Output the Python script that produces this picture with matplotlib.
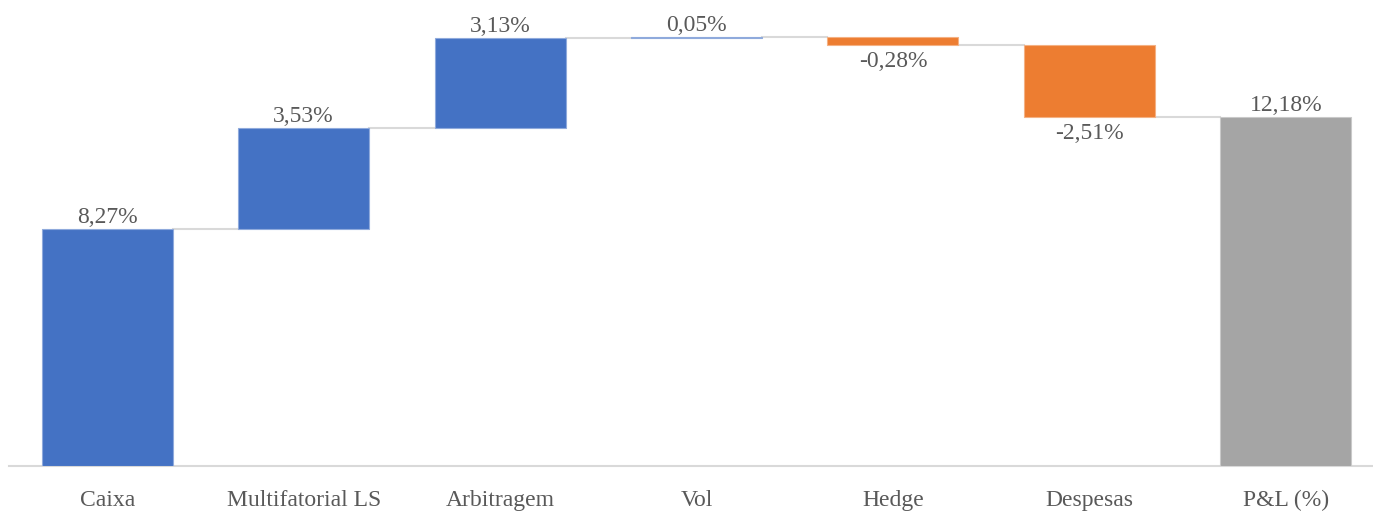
import matplotlib
matplotlib.use("Agg")
import matplotlib.pyplot as plt
import numpy as np

categories = ["Caixa", "Multifatorial LS", "Arbitragem", "Vol", "Hedge", "Despesas", "P&L (%)"]
changes = [8.27, 3.53, 3.13, 0.05, -0.28, -2.51]
total = 12.18
labels = ["8,27%", "3,53%", "3,13%", "0,05%", "-0,28%", "-2,51%", "12,18%"]

BLUE = "#4472C4"
ORANGE = "#ED7D31"
GRAY = "#A5A5A5"
TEXT = "#595959"
FONT = ["Liberation Serif", "DejaVu Serif"]
FS = 17

W, H = 1373, 513
fig = plt.figure(figsize=(W / 100, H / 100), dpi=100)
ax = fig.add_axes([9 / W, 47 / H, 1375 / W, 466 / H])

starts = []
ends = []
cum = 0.0
for v in changes:
    starts.append(cum)
    cum += v
    ends.append(cum)

bw = 0.667
x = np.arange(len(categories))
for i, v in enumerate(changes):
    lo = min(starts[i], ends[i])
    col = BLUE if v >= 0 else ORANGE
    edge = "#8FAADC" if v >= 0 else "#F4B183"
    ax.bar(x[i], abs(v), bottom=lo, width=bw, color=col, edgecolor=edge, linewidth=0.8, zorder=3)
ax.bar(x[-1], total, bottom=0, width=bw, color=GRAY, edgecolor="#C9C9C9", linewidth=0.8, zorder=3)

# connectors
for i in range(len(categories) - 1):
    ax.plot([x[i] + bw / 2, x[i + 1] - bw / 2], [ends[i], ends[i]], color="#D9D9D9", lw=1.5, zorder=2)

# labels
for i, v in enumerate(changes):
    if v >= 0:
        ax.annotate(labels[i], (x[i], ends[i]), xytext=(0, 0.5), textcoords="offset points",
                    ha="center", va="bottom", fontsize=FS, color=TEXT, family=FONT)
    else:
        ax.annotate(labels[i], (x[i], ends[i]), xytext=(0, -4.5), textcoords="offset points",
                    ha="center", va="top", fontsize=FS, color=TEXT, family=FONT)
ax.annotate(labels[-1], (x[-1], total), xytext=(0, 0.5), textcoords="offset points",
            ha="center", va="bottom", fontsize=FS, color=TEXT, family=FONT)

ax.set_xlim(-0.5, len(categories) - 0.5)
ax.set_ylim(0, 466 / 28.66)
ax.set_xticks(x)
ax.set_xticklabels(categories, fontsize=FS, color=TEXT, family=FONT)
ax.tick_params(axis="x", length=0, pad=17)
ax.set_yticks([])
for s in ["top", "right", "left"]:
    ax.spines[s].set_visible(False)
ax.spines["bottom"].set_color("#D9D9D9")
ax.spines["bottom"].set_linewidth(1.5)

fig.savefig("out.png", dpi=100)
